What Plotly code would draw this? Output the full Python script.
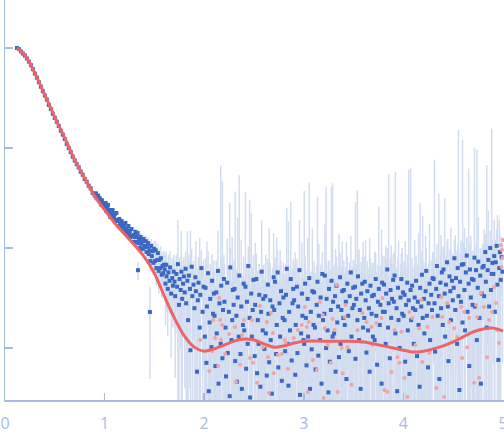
import plotly.graph_objects as go

# ---- fitted curve ----
q_fit = [0.12, 0.2, 0.3, 0.4, 0.5, 0.6, 0.7, 0.8, 0.9, 1.0, 1.1, 1.2, 1.3, 1.4, 1.5, 1.6, 1.7, 1.8, 1.9,
         2.0, 2.1, 2.2, 2.3, 2.4, 2.5, 2.6, 2.7, 2.8, 2.9, 3.0, 3.2, 3.4, 3.6, 3.8, 4.0, 4.1, 4.2, 4.3,
         4.4, 4.5, 4.6, 4.7, 4.8, 4.9, 5.0]
I_fit = [1.0, 0.85, 0.56, 0.34, 0.204, 0.126, 0.076, 0.050, 0.033, 0.024, 0.0178, 0.0138, 0.0107,
         0.0081, 0.0056, 0.0033, 0.0020, 0.00132, 0.00102, 0.00093, 0.00098, 0.00107, 0.00117,
         0.00123, 0.00120, 0.00110, 0.00102, 0.00105, 0.00112, 0.00117, 0.00117, 0.00117, 0.00115,
         0.00105, 0.00095, 0.00091, 0.00093, 0.00098, 0.00105, 0.00115, 0.00129, 0.00145, 0.00155,
         0.00158, 0.00148]

# ---- experimental data (blue) ----
q_blue = [
    0.12, 0.14, 0.16, 0.18, 0.20, 0.22, 0.24, 0.26, 0.28, 0.30,
    0.32, 0.34, 0.36, 0.38, 0.40, 0.42, 0.44, 0.46, 0.48, 0.50,
    0.52, 0.54, 0.56, 0.58, 0.60, 0.62, 0.64, 0.66, 0.68, 0.70,
    0.72, 0.74, 0.76, 0.78, 0.80, 0.82, 0.84, 0.86, 0.88, 0.90,
    0.905, 0.913, 0.92, 0.928, 0.935, 0.943, 0.951, 0.958, 0.966, 0.973, 0.981, 0.989, 0.996,
    1.004, 1.011, 1.019, 1.027, 1.034, 1.042, 1.049, 1.057, 1.064, 1.072, 1.08, 1.087, 1.095,
    1.102, 1.11, 1.118, 1.125, 1.133, 1.14, 1.148, 1.156, 1.163, 1.171, 1.178, 1.186, 1.194,
    1.201, 1.209, 1.216, 1.224, 1.232, 1.239, 1.247, 1.254, 1.262, 1.27, 1.277, 1.285, 1.292,
    1.3, 1.308, 1.315, 1.323, 1.331, 1.338, 1.346, 1.353, 1.361, 1.369, 1.376, 1.384, 1.391, 1.399,
    1.406, 1.414, 1.421, 1.429, 1.437, 1.444, 1.452, 1.459, 1.467, 1.474, 1.482, 1.49, 1.497,
    1.505, 1.512, 1.52, 1.528, 1.535, 1.543, 1.55, 1.558, 1.565, 1.573, 1.581, 1.588, 1.596,
    1.603, 1.611, 1.618, 1.622, 1.634, 1.641, 1.652, 1.657, 1.668, 1.679, 1.686, 1.694,
    1.702, 1.709, 1.721, 1.728, 1.736, 1.747, 1.753, 1.764, 1.771, 1.779, 1.788, 1.796,
    1.804, 1.813, 1.819, 1.831, 1.838, 1.846, 1.857, 1.862, 1.874, 1.881, 1.893,
    1.902, 1.911, 1.917, 1.928, 1.936, 1.943, 1.955, 1.961, 1.972, 1.984, 1.993,
    2.006, 2.013, 2.022, 2.027, 2.039, 2.046, 2.054, 2.061, 2.073, 2.079, 2.088, 2.097,
    2.104, 2.112, 2.121, 2.126, 2.138, 2.144, 2.153, 2.166, 2.171, 2.183, 2.189, 2.198,
    2.203, 2.214, 2.219, 2.231, 2.237, 2.248, 2.256, 2.262, 2.274, 2.281, 2.287, 2.296,
    2.305, 2.311, 2.323, 2.328, 2.336, 2.347, 2.352, 2.364, 2.372, 2.378, 2.389, 2.396,
    2.402, 2.414, 2.421, 2.429, 2.437, 2.443, 2.456, 2.461, 2.472, 2.478, 2.487, 2.494,
    2.507, 2.512, 2.523, 2.531, 2.538, 2.546, 2.553, 2.564, 2.571, 2.577, 2.588, 2.593,
    2.604, 2.613, 2.619, 2.628, 2.639, 2.645, 2.652, 2.663, 2.668, 2.679, 2.686, 2.697,
    2.703, 2.711, 2.722, 2.728, 2.737, 2.744, 2.756, 2.762, 2.771, 2.779, 2.788, 2.795,
    2.806, 2.812, 2.821, 2.829, 2.838, 2.846, 2.853, 2.861, 2.869, 2.878, 2.887, 2.894,
    2.903, 2.914, 2.919, 2.931, 2.936, 2.944, 2.957, 2.962, 2.973, 2.981, 2.986, 2.997,
    3.004, 3.013, 3.021, 3.027, 3.038, 3.043, 3.055, 3.062, 3.071, 3.079, 3.086, 3.098,
    3.103, 3.112, 3.118, 3.129, 3.137, 3.146, 3.151, 3.163, 3.169, 3.178, 3.186, 3.193,
    3.206, 3.211, 3.224, 3.229, 3.238, 3.247, 3.253, 3.261, 3.272, 3.278, 3.289, 3.294,
    3.304, 3.313, 3.319, 3.328, 3.336, 3.345, 3.353, 3.364, 3.369, 3.377, 3.386, 3.397,
    3.402, 3.411, 3.422, 3.428, 3.437, 3.446, 3.452, 3.461, 3.472, 3.479, 3.488, 3.496,
    3.503, 3.514, 3.519, 3.527, 3.538, 3.544, 3.555, 3.563, 3.571, 3.576, 3.587, 3.595,
    3.607, 3.612, 3.621, 3.629, 3.638, 3.645, 3.654, 3.661, 3.669, 3.681, 3.686, 3.694,
    3.703, 3.711, 3.722, 3.728, 3.736, 3.744, 3.753, 3.762, 3.769, 3.781, 3.787, 3.794,
    3.806, 3.813, 3.822, 3.827, 3.838, 3.846, 3.852, 3.863, 3.871, 3.878, 3.886, 3.897,
    3.904, 3.911, 3.919, 3.931, 3.937, 3.946, 3.951, 3.962, 3.971, 3.979, 3.988, 3.996,
    4.003, 4.012, 4.018, 4.027, 4.039, 4.044, 4.053, 4.061, 4.072, 4.078, 4.087, 4.096,
    4.104, 4.113, 4.119, 4.128, 4.137, 4.145, 4.152, 4.163, 4.168, 4.179, 4.186, 4.194,
    4.206, 4.211, 4.223, 4.229, 4.236, 4.247, 4.253, 4.262, 4.268, 4.279, 4.287, 4.293,
    4.304, 4.312, 4.318, 4.329, 4.337, 4.344, 4.356, 4.361, 4.372, 4.378, 4.386, 4.395,
    4.403, 4.414, 4.419, 4.427, 4.438, 4.446, 4.452, 4.463, 4.471, 4.477, 4.488, 4.496,
    4.505, 4.512, 4.521, 4.528, 4.539, 4.545, 4.553, 4.562, 4.569, 4.578, 4.586, 4.594,
    4.603, 4.613, 4.619, 4.627, 4.636, 4.644, 4.655, 4.661, 4.668, 4.677, 4.688, 4.695,
    4.704, 4.713, 4.718, 4.729, 4.737, 4.746, 4.752, 4.763, 4.771, 4.778, 4.787, 4.794,
    4.806, 4.811, 4.822, 4.828, 4.837, 4.846, 4.853, 4.861, 4.872, 4.879, 4.887, 4.894,
    4.903, 4.912, 4.918, 4.927, 4.936, 4.944, 4.953, 4.962, 4.969, 4.977, 4.986, 4.995,
    1.335, 1.455,
]
I_blue = [
    1.00, 0.975, 0.925, 0.88, 0.84, 0.785, 0.73, 0.675, 0.615, 0.555,
    0.505, 0.455, 0.41, 0.37, 0.335, 0.305, 0.27, 0.245, 0.22, 0.20,
    0.183, 0.166, 0.149, 0.136, 0.123, 0.110, 0.100, 0.091, 0.082, 0.075,
    0.069, 0.064, 0.058, 0.054, 0.049, 0.046, 0.042, 0.0395, 0.0355, 0.0335,
    0.0338, 0.0352, 0.0315, 0.0330, 0.0335, 0.0300, 0.0315, 0.0300, 0.0272, 0.0300, 0.0275, 0.0270, 0.0282,
    0.0257, 0.0282, 0.0234, 0.0251, 0.0269, 0.0224, 0.0240, 0.0204, 0.0234, 0.0214, 0.0240, 0.0200, 0.0204,
    0.0219, 0.0186, 0.0224, 0.0186, 0.0191, 0.0166, 0.0195, 0.0174, 0.0162, 0.0186, 0.0170, 0.0148, 0.0166,
    0.0158, 0.0178, 0.0145, 0.0158, 0.0132, 0.0166, 0.0141, 0.0148, 0.0129, 0.0155, 0.0132, 0.0115, 0.0135,
    0.0129, 0.0145, 0.0115, 0.0129, 0.0141, 0.0112, 0.0123, 0.0100, 0.0129, 0.0110, 0.0117, 0.0098, 0.0123, 0.0102,
    0.0105, 0.0117, 0.0091, 0.0102, 0.0112, 0.0087, 0.0095, 0.0074, 0.0105, 0.0083, 0.0093, 0.0071, 0.0098,
    0.0074, 0.0095, 0.0063, 0.0076, 0.0089, 0.0059, 0.0076, 0.0063, 0.0079, 0.0054, 0.0066, 0.0056, 0.0068,
    0.0061, 0.0044, 0.0068, 0.0052, 0.0039, 0.0057, 0.0047, 0.0064, 0.0035, 0.0050, 0.0042, 0.0058,
    0.0046, 0.0033, 0.0055, 0.0041, 0.0069, 0.0027, 0.0049, 0.0038, 0.0058, 0.0031, 0.0044, 0.0052,
    0.0036, 0.0062, 0.0028, 0.0047, 0.0019, 0.0053, 0.0039, 0.00095, 0.0065, 0.0033, 0.0043,
    0.0025, 0.0051, 0.0037, 0.00058, 0.0030, 0.0045, 0.0016, 0.0034, 0.0063, 0.0023, 0.0041,
    0.0013, 0.0040, 0.00071, 0.0026, 0.0056, 0.00037, 0.0018, 0.0031, 0.00102, 0.0047, 0.0022, 0.0035,
    0.0021, 0.00066, 0.0036, 0.0014, 0.0059, 0.00044, 0.0028, 0.0011, 0.0042, 0.00079, 0.0024, 0.0049,
    0.0029, 0.0016, 0.00052, 0.0045, 0.00089, 0.0023, 0.00033, 0.0064, 0.0012, 0.0019, 0.0038, 0.0027,
    0.0039, 0.00074, 0.0021, 0.00046, 0.0032, 0.0013, 0.0053, 0.00087, 0.0026, 0.00039, 0.0017, 0.0044,
    0.0015, 0.0041, 0.00062, 0.0029, 0.0011, 0.0066, 0.0020, 0.00032, 0.0035, 0.0013, 0.0024, 0.0048,
    0.00083, 0.0027, 0.0049, 0.00056, 0.0019, 0.0011, 0.0034, 0.00041, 0.0023, 0.0058, 0.0015, 0.0031,
    0.00098, 0.0033, 0.0014, 0.00053, 0.0043, 0.0022, 0.00072, 0.0030, 0.0012, 0.00035, 0.0026, 0.0051,
    0.0024, 0.0046, 0.00087, 0.0017, 0.0057, 0.00064, 0.0028, 0.0013, 0.0037, 0.00047, 0.0020, 0.0032,
    0.0019, 0.00093, 0.0034, 0.0062, 0.0011, 0.00042, 0.0023, 0.0015, 0.0049, 0.00075, 0.0028, 0.0039,
    0.0030, 0.00054, 0.0017, 0.0041, 0.00089, 0.0026, 0.0060, 0.00034, 0.0014, 0.0035, 0.0021, 0.0012,
    0.0011, 0.0044, 0.0020, 0.00067, 0.0031, 0.0013, 0.0050, 0.00039, 0.0023, 0.00097, 0.0037, 0.0017,
    0.0036, 0.0016, 0.00061, 0.0027, 0.0046, 0.00084, 0.0021, 0.0012, 0.0032, 0.00044, 0.0055, 0.0019,
    0.0022, 0.0053, 0.0010, 0.0031, 0.0015, 0.00036, 0.0039, 0.00073, 0.0024, 0.0047, 0.0013, 0.0029,
    0.0014, 0.0033, 0.00058, 0.0042, 0.0018, 0.0026, 0.00081, 0.0051, 0.0011, 0.0024, 0.0037, 0.0020,
    0.0038, 0.0017, 0.0029, 0.00049, 0.0044, 0.0021, 0.00093, 0.0033, 0.0057, 0.0013, 0.0025, 0.0040,
    0.0027, 0.0041, 0.00078, 0.0031, 0.0019, 0.0052, 0.0012, 0.0024, 0.00039, 0.0035, 0.0044, 0.0016,
    0.0020, 0.0046, 0.0030, 0.00090, 0.0037, 0.0015, 0.0025, 0.00058, 0.0042, 0.0022, 0.0033, 0.0013,
    0.0034, 0.0012, 0.0049, 0.0021, 0.00068, 0.0029, 0.0039, 0.0017, 0.0027, 0.00044, 0.0045, 0.0023,
    0.0043, 0.0023, 0.0011, 0.0035, 0.0061, 0.0016, 0.0028, 0.00079, 0.0038, 0.0020, 0.0031, 0.0048,
    0.0029, 0.0053, 0.0014, 0.0025, 0.00037, 0.0040, 0.0019, 0.0010, 0.0032, 0.0049, 0.0022, 0.0036,
    0.0021, 0.0034, 0.00073, 0.0027, 0.0045, 0.0015, 0.0030, 0.00055, 0.0038, 0.0019, 0.0042, 0.0025,
    0.0011, 0.0032, 0.0024, 0.0047, 0.00083, 0.0029, 0.0017, 0.00041, 0.0040, 0.0026, 0.0054, 0.0020,
    0.0031, 0.0014, 0.0037, 0.0059, 0.0021, 0.00064, 0.0028, 0.0044, 0.0012, 0.0034, 0.0024, 0.0050,
    0.0049, 0.0028, 0.00092, 0.0039, 0.0066, 0.0021, 0.0033, 0.00049, 0.0045, 0.0025, 0.0057, 0.0017,
    0.0061, 0.0035, 0.0013, 0.0043, 0.0072, 0.0026, 0.00074, 0.0052, 0.0037, 0.0019, 0.0047, 0.0030,
    0.0040, 0.0079, 0.0024, 0.0050, 0.0011, 0.0063, 0.0033, 0.00038, 0.0046, 0.0029, 0.0068, 0.0018,
    0.0069, 0.0038, 0.0015, 0.0057, 0.0084, 0.0023, 0.0044, 0.00066, 0.0061, 0.0032, 0.0049, 0.0027,
    0.0048, 0.0080, 0.0026, 0.0060, 0.0012, 0.0040, 0.0073, 0.0020, 0.0053, 0.00044, 0.0035, 0.0064,
    0.0066, 0.0033, 0.0091, 0.0046, 0.0016, 0.0060, 0.0076, 0.0026, 0.0100, 0.0038, 0.0055, 0.0071,
    0.0055, 0.0083, 0.0023, 0.0072, 0.0105, 0.0043, 0.00076, 0.0063, 0.0091, 0.0048, 0.0081, 0.0058,
    0.0060, 0.00229,
]
err_blue = [
    0.003, 0.003, 0.003, 0.003, 0.003, 0.003, 0.003, 0.003, 0.003, 0.003,
    0.003, 0.003, 0.003, 0.003, 0.003, 0.003, 0.003, 0.003, 0.003, 0.003,
    0.0008, 0.0008, 0.0008, 0.0008, 0.0008, 0.0008, 0.0008, 0.0008, 0.0008, 0.0008,
    0.0008, 0.0008, 0.0008, 0.0008, 0.0008, 0.0008, 0.0008, 0.0008, 0.0008, 0.0008,
    0.0004, 0.0004, 0.0004, 0.0004, 0.0004, 0.0004, 0.0004, 0.0004, 0.0004, 0.0004, 0.0004, 0.0004, 0.0004,
    0.0004, 0.0004, 0.0004, 0.0004, 0.0004, 0.0004, 0.0004, 0.0004, 0.0004, 0.0004, 0.0004, 0.0004, 0.0004,
    0.0005, 0.0005, 0.0005, 0.0005, 0.0005, 0.0005, 0.0005, 0.0005, 0.0005, 0.0005, 0.0005, 0.0005, 0.0005,
    0.0006, 0.0007, 0.0006, 0.0008, 0.0007, 0.0006, 0.0008, 0.0007, 0.0008, 0.0007, 0.0008, 0.0008, 0.0007,
    0.0009, 0.0011, 0.0010, 0.0012, 0.0010, 0.0011, 0.0013, 0.0011, 0.0012, 0.0013, 0.0012, 0.0011, 0.0013, 0.0012,
    0.0014, 0.0016, 0.0015, 0.0017, 0.0015, 0.0018, 0.0016, 0.0017, 0.0019, 0.0016, 0.0018, 0.0017, 0.0019,
    0.0020, 0.0022, 0.0021, 0.0023, 0.0021, 0.0024, 0.0022, 0.0023, 0.0025, 0.0022, 0.0024, 0.0023, 0.0026,
    0.0025, 0.0027, 0.0024, 0.0029, 0.0026, 0.0028, 0.0025, 0.0030, 0.0027, 0.0029, 0.0026, 0.0028,
    0.0030, 0.0028, 0.0031, 0.0027, 0.0120, 0.0029, 0.0032, 0.0028, 0.0090, 0.0030, 0.0031, 0.0029,
    0.0032, 0.0030, 0.0034, 0.0100, 0.0031, 0.0033, 0.0035, 0.0140, 0.0032, 0.0034, 0.0031,
    0.0034, 0.0032, 0.0080, 0.0035, 0.0033, 0.0036, 0.0110, 0.0034, 0.0032, 0.0037, 0.0035,
    0.0036, 0.0039, 0.0034, 0.0090, 0.0037, 0.0035, 0.0041, 0.0038, 0.0034, 0.0039, 0.0036, 0.0040,
    0.0037, 0.0035, 0.0039, 0.0036, 0.0090, 0.0038, 0.0036, 0.066, 0.0037, 0.046, 0.0039, 0.0036,
    0.0040, 0.0035, 0.0038, 0.0080, 0.0036, 0.0039, 0.028, 0.0037, 0.0035, 0.0110, 0.0038, 0.0036,
    0.0038, 0.036, 0.0040, 0.0036, 0.017, 0.0039, 0.048, 0.0037, 0.0095, 0.0040, 0.0036, 0.0038,
    0.0036, 0.032, 0.0039, 0.0041, 0.0035, 0.0038, 0.028, 0.0037, 0.019, 0.0036, 0.0040, 0.0037,
    0.0037, 0.0085, 0.0039, 0.0036, 0.0040, 0.0038, 0.0035, 0.0039, 0.0036, 0.013, 0.0038, 0.0037,
    0.0040, 0.0037, 0.0072, 0.0039, 0.0035, 0.0038, 0.015, 0.0041, 0.0036, 0.0039, 0.0037, 0.0090,
    0.0038, 0.0035, 0.0040, 0.0110, 0.0037, 0.0039, 0.0036, 0.0082, 0.0038, 0.0040, 0.0036, 0.0039,
    0.0036, 0.0039, 0.0035, 0.019, 0.0040, 0.018, 0.0037, 0.0038, 0.024, 0.0039, 0.0036, 0.0038,
    0.0038, 0.0085, 0.0040, 0.0036, 0.0039, 0.0037, 0.013, 0.0040, 0.0036, 0.0078, 0.0035, 0.0038,
    0.036, 0.0038, 0.0040, 0.0036, 0.0095, 0.0037, 0.040, 0.0039, 0.0035, 0.0037, 0.0120, 0.0038,
    0.0038, 0.0040, 0.0036, 0.0039, 0.028, 0.0037, 0.0088, 0.0040, 0.0036, 0.0038, 0.0037, 0.0039,
    0.0040, 0.012, 0.040, 0.0037, 0.0039, 0.0070, 0.0036, 0.0040, 0.0038, 0.036, 0.043, 0.0037,
    0.0038, 0.0036, 0.0092, 0.0040, 0.0037, 0.0039, 0.013, 0.0038, 0.0036, 0.0040, 0.0080, 0.0037,
    0.0037, 0.0040, 0.0036, 0.0110, 0.0038, 0.0040, 0.0036, 0.0039, 0.0075, 0.0037, 0.0039, 0.0036,
    0.0040, 0.0038, 0.028, 0.0037, 0.036, 0.0039, 0.0085, 0.0036, 0.0040, 0.0038, 0.0037, 0.010,
    0.0038, 0.0036, 0.0090, 0.0040, 0.0037, 0.0039, 0.0038, 0.0120, 0.0036, 0.0040, 0.0038, 0.0037,
    0.0037, 0.0080, 0.0040, 0.0036, 0.0039, 0.0038, 0.022, 0.0037, 0.0039, 0.015, 0.0040, 0.0037,
    0.0039, 0.0036, 0.0095, 0.0040, 0.0038, 0.0037, 0.052, 0.0039, 0.0041, 0.0086, 0.0038, 0.0039,
    0.0036, 0.0040, 0.056, 0.0038, 0.0037, 0.0039, 0.010, 0.0041, 0.0036, 0.0039, 0.0078, 0.0038,
    0.0040, 0.0038, 0.0110, 0.0036, 0.0041, 0.0039, 0.058, 0.0037, 0.060, 0.0040, 0.0038, 0.0039,
    0.0038, 0.0088, 0.0041, 0.0037, 0.0040, 0.0039, 0.0125, 0.0038, 0.024, 0.0040, 0.0039, 0.019,
    0.0041, 0.0039, 0.0095, 0.0042, 0.0040, 0.0038, 0.0043, 0.0130, 0.0039, 0.0041, 0.0042, 0.0040,
    0.0042, 0.074, 0.0044, 0.0040, 0.0043, 0.0041, 0.032, 0.0045, 0.0042, 0.0110, 0.0044, 0.0042,
    0.0044, 0.028, 0.0043, 0.0041, 0.0045, 0.0098, 0.0042, 0.0044, 0.0043, 0.0140, 0.0042, 0.0045,
    0.0045, 0.0042, 0.0110, 0.0044, 0.0043, 0.0046, 0.148, 0.0041, 0.0044, 0.0090, 0.0045, 0.12,
    0.0044, 0.0120, 0.0046, 0.0043, 0.0045, 0.0044, 0.058, 0.0042, 0.0047, 0.0100, 0.0045, 0.0046,
    0.0046, 0.093, 0.0044, 0.0047, 0.095, 0.0045, 0.0130, 0.0048, 0.0046, 0.0095, 0.0047, 0.0045,
    0.0047, 0.0120, 0.0048, 0.0045, 0.066, 0.0049, 0.0160, 0.0046, 0.0048, 0.0047, 0.150, 0.0049,
    0.0048, 0.0110, 0.0047, 0.0050, 0.0049, 0.017, 0.0048, 0.0130, 0.0050, 0.0049, 0.0048, 0.0051,
    0.0012, 0.0018,
]

# ---- second point set (pink) ----
q_pink = [
    1.96, 2.05, 2.09, 2.11, 2.08, 2.15, 2.16, 2.18, 2.14, 2.17,
    2.21, 2.25, 2.31, 2.32, 2.36, 2.38, 2.40, 2.46, 2.49, 2.48,
    2.53, 2.56, 2.59, 2.63, 2.65, 2.64, 2.67, 2.69, 2.70, 2.74,
    2.78, 2.81, 2.84, 2.90, 2.94, 2.98, 3.01, 3.03, 3.05, 3.09,
    3.13, 3.16, 3.19, 3.21, 3.24, 3.27, 3.29, 3.31, 3.33, 3.38,
    3.39, 3.41, 3.34, 3.20, 3.04, 2.82,
    3.42, 3.44, 3.48, 3.54, 3.58, 3.59, 3.63, 3.68, 3.69, 3.73,
    3.78, 3.79, 3.81, 3.84, 3.88, 3.91, 3.94, 3.96, 3.98, 4.01,
    4.04, 4.06, 4.09, 4.12, 4.16, 4.18, 4.19, 4.24, 4.26, 4.29,
    4.33, 4.38, 4.39, 4.41, 4.44, 4.46, 4.51, 4.54, 4.58, 4.59,
    4.61, 4.64, 4.66, 4.71, 4.73, 4.74, 4.76, 4.78, 4.81, 4.84,
    4.86, 4.89, 4.91, 4.93, 4.94, 4.96, 4.98, 4.99, 4.995, 4.985,
    5.0,
]
I_pink = [
    0.0012, 0.00059, 0.00191, 0.00126, 0.00093, 0.00316, 0.00191, 0.0017, 0.000661, 0.0012,
    0.000871, 0.00138, 0.00162, 0.000457, 0.00068, 0.00135, 0.00191, 0.000794, 0.00071, 0.00191,
    0.00045, 0.00263, 0.00102, 0.00182, 0.000355, 0.00081, 0.00224, 0.00141, 0.00056, 0.00085,
    0.000871, 0.0012, 0.00062, 0.00126, 0.00151, 0.0017, 0.00257, 0.00162, 0.00182, 0.000759,
    0.000603, 0.00288, 0.00214, 0.00158, 0.00107, 0.00071, 0.00195, 0.00151, 0.00427, 0.001,
    0.00056, 0.00204, 0.000363, 0.000316, 0.000363, 0.0011,
    0.00269, 0.00102, 0.00043, 0.00151, 0.00115, 0.00224, 0.00182, 0.00162, 0.00107, 0.00178,
    0.002, 0.00316, 0.00038, 0.000363, 0.000575, 0.00151, 0.00081, 0.00071, 0.00145, 0.000501,
    0.000324, 0.00229, 0.002, 0.00107, 0.00158, 0.00302, 0.000724, 0.00162, 0.00089, 0.00204,
    0.000398, 0.00324, 0.00204, 0.000324, 0.00282, 0.00182, 0.00158, 0.00129, 0.00257, 0.000794,
    0.00229, 0.00102, 0.002, 0.00045, 0.00269, 0.00204, 0.000501, 0.00355, 0.00257, 0.00081,
    0.00191, 0.00229, 0.00407, 0.00282, 0.00151, 0.00112, 0.0107, 0.00955, 0.00794, 0.00646,
    0.012,
]

x_ticks = [0, 1, 2, 3, 4, 5]
x_tick_labels = ["0", "1", "2", "3", "4", "5"]

axis_color = "#a7bce3"

fig = go.Figure()
fig.add_trace(go.Scatter(
    x=q_blue, y=I_blue, mode="markers",
    marker=dict(symbol="square", size=4, color="#3b68c2", line=dict(width=0)),
    error_y=dict(type="data", array=err_blue, visible=True, color="#d3ddf0",
                 thickness=1.5, width=0),
    hoverinfo="skip",
))
fig.add_trace(go.Scatter(
    x=q_pink, y=I_pink, mode="markers",
    marker=dict(symbol="circle", size=4, color="#f4a3a3", line=dict(width=0)),
    hoverinfo="skip",
))
fig.add_trace(go.Scatter(
    x=q_fit, y=I_fit, mode="lines",
    line=dict(color="#ee6464", width=3, shape="spline", smoothing=0.8),
    hoverinfo="skip",
))

fig.update_layout(
    width=504, height=438,
    margin=dict(l=5, r=0, t=0, b=38, autoexpand=False),
    plot_bgcolor="white", paper_bgcolor="white",
    showlegend=False,
    hovermode=False,
    font=dict(family="Open Sans", color=axis_color),
    xaxis=dict(range=[0, 5.01], showgrid=False, zeroline=False, automargin=False,
               showline=True, linecolor=axis_color, linewidth=1.5,
               ticks="inside", ticklen=7, tickwidth=1.5, tickcolor=axis_color,
               tickvals=x_ticks, ticktext=x_tick_labels,
               ticklabeloverflow="allow", ticklabelstandoff=8,
               tickfont=dict(size=16, color=axis_color, family="Open Sans")),
    yaxis=dict(type="log", range=[-3.52, 0.48], showgrid=False, zeroline=False, automargin=False,
               showline=True, linecolor=axis_color, linewidth=1.5,
               ticks="inside", ticklen=8, tickwidth=1.5, tickcolor=axis_color,
               tickvals=[1, 0.1, 0.01, 0.001], showticklabels=False),
)

fig.write_html("out.html",
               config={"displayModeBar": False, "staticPlot": True},
               post_script="document.body.style.margin='0px';document.body.style.overflow='hidden';")
